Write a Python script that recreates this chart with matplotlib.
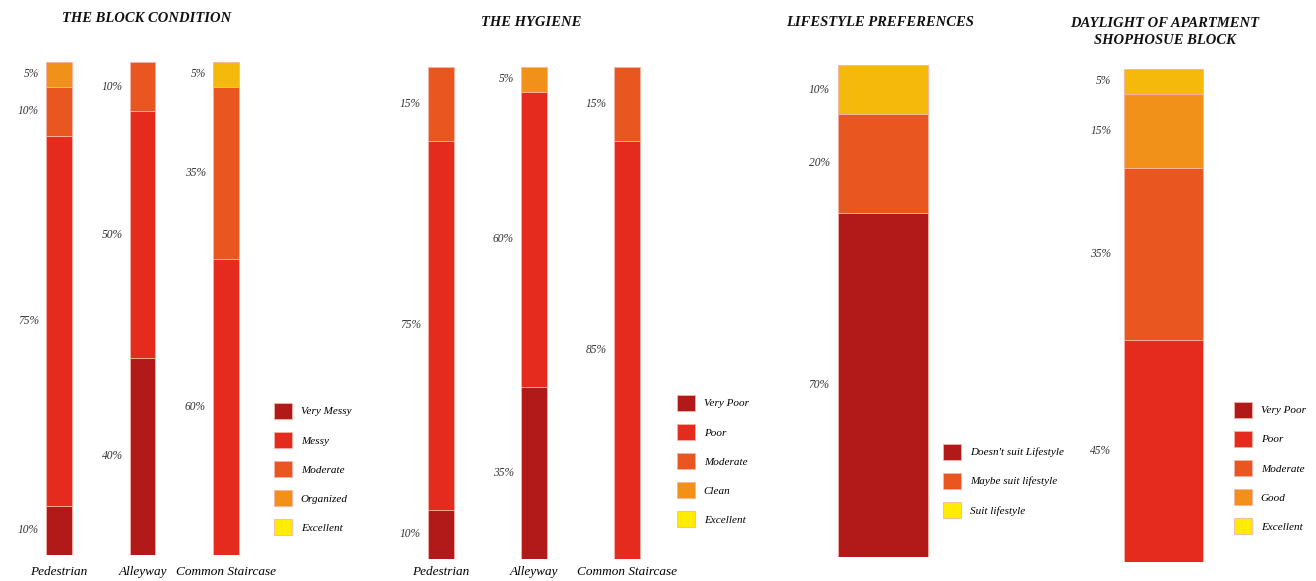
import matplotlib.pyplot as plt
from matplotlib.patches import Patch

plt.rcParams['font.family'] = ['Liberation Serif', 'DejaVu Serif']
plt.rcParams['font.style'] = 'italic'

W, H = 1316, 581

#------------------------------------
# Data
block_locations = ['Pedestrian', 'Alleyway', 'Common Staircase']
block_levels = ['Very Messy', 'Messy', 'Moderate', 'Organized', 'Excellent']
block_very_messy = [10, 40, 0]
block_messy = [75, 50, 60]
block_moderate = [10, 10, 35]
block_organized = [5, 0, 0]
block_excellent = [0, 0, 5]

hyg_locations = ['Pedestrian', 'Alleyway', 'Common Staircase']
hyg_levels = ['Very Poor', 'Poor', 'Moderate', 'Clean', 'Excellent']
hyg_very_poor = [10, 35, 0]
hyg_poor = [75, 60, 85]
hyg_moderate = [15, 0, 15]
hyg_clean = [0, 5, 0]
hyg_excellent = [0, 0, 0]

life_levels = ["Doesn't suit Lifestyle", 'Maybe suit lifestyle', 'Suit lifestyle']
life_values = [70, 20, 10]

day_levels = ['Very Poor', 'Poor', 'Moderate', 'Good', 'Excellent']
day_values = [0, 45, 35, 15, 5]

# bar colours (top level shows as gold in bars, bright yellow in legends)
bar_colors = ['#b21a19', '#e42b1d', '#ea561f', '#f29119', '#f5b90b']
legend_colors = ['#b21a19', '#e42b1d', '#ea561f', '#f29119', '#ffec00']
life_bar_colors = ['#b21a19', '#ea561f', '#f5b90b']
life_legend_colors = ['#b21a19', '#ea561f', '#ffec00']

fig = plt.figure(figsize=(W / 100, H / 100), dpi=100)


def px_axes(left, top, right, bottom):
    ax = fig.add_axes([left / W, 1 - bottom / H, (right - left) / W, (bottom - top) / H])
    ax.set_facecolor('none')
    for s in ax.spines.values():
        s.set_visible(False)
    ax.set_ylim(0, 100)
    ax.set_yticks([])
    ax.tick_params(axis='x', length=0, labelsize=9.5)
    return ax


def stacked(ax, positions, series, colors, width, label_pad=5):
    bottoms = [0] * len(positions)
    for vals, col in zip(series, colors):
        ax.bar(positions, vals, width=width, bottom=bottoms, color=col,
               edgecolor='#f6b3a6', linewidth=0.6)
        for p, v, b in zip(positions, vals, bottoms):
            if v > 0:
                ax.annotate(f'{v}%', (p - width / 2, b + v / 2), xytext=(-label_pad, 0),
                            textcoords='offset points', ha='right', va='center',
                            fontsize=8.3, color='#333333')
        bottoms = [b + v for b, v in zip(bottoms, vals)]


def add_legend(ax, labels, colors, x, y):
    handles = [Patch(facecolor=c, edgecolor='#f6b3a6', linewidth=0.6, label=l)
               for l, c in zip(labels, colors)]
    ax.legend(handles=handles, loc='upper left', bbox_to_anchor=(x / W, 1 - y / H),
              bbox_transform=fig.transFigure, frameon=False, fontsize=8,
              handlelength=1.65, handleheight=1.8, handletextpad=0.75,
              labelspacing=1.2, borderpad=0, borderaxespad=0)


def title(x, y, text):
    fig.text(x / W, 1 - y / H, text, ha='center', va='center', fontsize=10.5,
             fontweight='bold', color='#111111', linespacing=1.45)


#------------------------------------
# The block condition
ax1 = px_axes(8.9, 62, 276.1, 555)
pos = range(len(block_locations))
stacked(ax1, pos, [block_very_messy, block_messy, block_moderate, block_organized,
                   block_excellent], bar_colors, 0.31)
ax1.set_xlim(-0.6, 2.6)
ax1.set_xticks(list(pos), block_locations)
ax1.tick_params(axis='x', pad=8)
add_legend(ax1, block_levels, legend_colors, 274, 403)
title(147, 18, 'THE BLOCK CONDITION')

#------------------------------------
# The hygiene
ax2 = px_axes(385.2, 67, 682.8, 559)
pos = range(len(hyg_locations))
stacked(ax2, pos, [hyg_very_poor, hyg_poor, hyg_moderate, hyg_clean, hyg_excellent],
        bar_colors, 0.28)
ax2.set_xlim(-0.6, 2.6)
ax2.set_xticks(list(pos), hyg_locations)
ax2.tick_params(axis='x', pad=5)
add_legend(ax2, hyg_levels, legend_colors, 677, 395)
title(531, 23, 'THE HYGIENE')

#------------------------------------
# Lifestyle preferences
ax3 = px_axes(793, 65, 973, 557)
stacked(ax3, [0], [[v] for v in life_values], life_bar_colors, 1.0, label_pad=6)
ax3.set_xlim(-1, 1)
ax3.set_xticks([])
add_legend(ax3, life_levels, life_legend_colors, 943, 444)
title(880, 22, 'LIFESTYLE PREFERENCES')

#------------------------------------
# Daylight
ax4 = px_axes(1084, 69, 1243, 562)
stacked(ax4, [0], [[v] for v in day_values], bar_colors, 1.0, label_pad=9)
ax4.set_xlim(-1, 1)
ax4.set_xticks([])
add_legend(ax4, day_levels, legend_colors, 1234, 402)
title(1165, 32, 'DAYLIGHT OF APARTMENT\nSHOPHOSUE BLOCK')

fig.savefig('out.png', dpi=100)
